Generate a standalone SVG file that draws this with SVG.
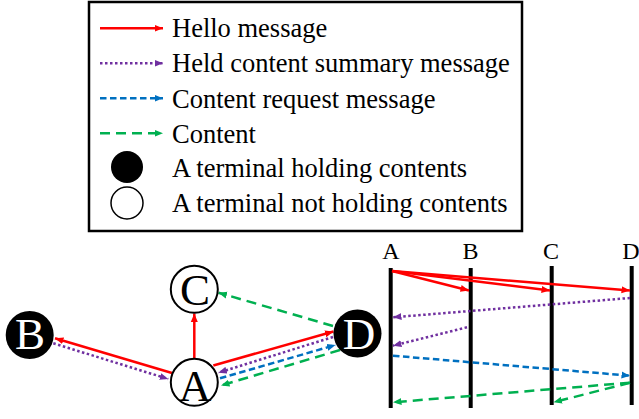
<svg xmlns="http://www.w3.org/2000/svg" width="639" height="419" viewBox="0 0 639 419">
<style>
.t{font-family:"Liberation Serif","Times New Roman",serif;fill:#000}
.lg{font-size:26.5px}
.nl{font-size:45px;text-anchor:middle}
.sl{font-size:24px;text-anchor:middle}
.red{stroke:#FF0000;stroke-width:2.5;fill:none;marker-end:url(#mr)}
.pur{stroke:#7030A0;stroke-width:2.5;fill:none;stroke-dasharray:2.5 2.5;marker-end:url(#mp)}
.blu{stroke:#0070C0;stroke-width:2.5;fill:none;stroke-dasharray:6.5 3.5;marker-end:url(#mb)}
.grn{stroke:#00B050;stroke-width:2.5;fill:none;stroke-dasharray:10 6;marker-end:url(#mg)}
.life{stroke:#000;stroke-width:4}
</style>
<defs>
<marker id="mr" markerUnits="userSpaceOnUse" markerWidth="9" markerHeight="8" refX="8.5" refY="4" orient="auto"><path d="M0,0.5 L8.5,4 L0,7.5 z" fill="#FF0000"/></marker>
<marker id="mp" markerUnits="userSpaceOnUse" markerWidth="9" markerHeight="8" refX="8.5" refY="4" orient="auto"><path d="M0,0.5 L8.5,4 L0,7.5 z" fill="#7030A0"/></marker>
<marker id="mb" markerUnits="userSpaceOnUse" markerWidth="9" markerHeight="8" refX="8.5" refY="4" orient="auto"><path d="M0,0.5 L8.5,4 L0,7.5 z" fill="#0070C0"/></marker>
<marker id="mg" markerUnits="userSpaceOnUse" markerWidth="9" markerHeight="8" refX="8.5" refY="4" orient="auto"><path d="M0,0.5 L8.5,4 L0,7.5 z" fill="#00B050"/></marker>
</defs>
<rect width="639" height="419" fill="#fff"/>

<g id="legend">
<rect x="89" y="2" width="433" height="229" fill="#fff" stroke="#000" stroke-width="2.5"/>
<line class="red" x1="100" y1="28.3" x2="163" y2="28.3"/>
<line class="pur" x1="100" y1="63.3" x2="163" y2="63.3"/>
<line class="blu" x1="100" y1="98.3" x2="163" y2="98.3"/>
<line class="grn" x1="100" y1="133.3" x2="163" y2="133.3"/>
<circle cx="127" cy="167" r="16" fill="#000"/>
<circle cx="127" cy="203" r="16" fill="#fff" stroke="#000" stroke-width="1.5"/>
<text class="t lg" x="172" y="37">Hello message</text>
<text class="t lg" x="172" y="71.5">Held content summary message</text>
<text class="t lg" x="172" y="107.5">Content request message</text>
<text class="t lg" x="172" y="142.5">Content</text>
<text class="t lg" x="172" y="177">A terminal holding contents</text>
<text class="t lg" x="172" y="212">A terminal not holding contents</text>
</g>

<g id="connectors">
<line class="red" x1="172" y1="373" x2="55" y2="338.3"/>
<line class="pur" x1="53.3" y1="343.3" x2="168.3" y2="379"/>
<line class="red" x1="194.3" y1="358" x2="194.3" y2="313.5"/>
<line class="grn" x1="333" y1="326" x2="218.5" y2="292.7"/>
<line class="red" x1="213.3" y1="365.5" x2="333.5" y2="331.5"/>
<line class="pur" x1="333" y1="337" x2="218.3" y2="372.7"/>
<line class="blu" x1="220" y1="378.3" x2="335.5" y2="345"/>
<line class="grn" x1="340" y1="350" x2="221" y2="385.5"/>

<line class="life" x1="390.7" y1="268" x2="390.7" y2="408"/>
<line class="life" x1="470.7" y1="268" x2="470.7" y2="408"/>
<line class="life" x1="551.7" y1="266" x2="551.7" y2="405"/>
<line class="life" x1="631.7" y1="266" x2="631.7" y2="405"/>

<line class="red" x1="392" y1="271" x2="469" y2="290.5"/>
<line class="red" x1="392" y1="271" x2="550" y2="290.5"/>
<line class="red" x1="392" y1="271" x2="630" y2="290.5"/>
<line class="pur" x1="630" y1="298" x2="393" y2="317.3"/>
<line class="pur" x1="467" y1="327.3" x2="393" y2="345.7"/>
<line class="blu" x1="393" y1="355.7" x2="630" y2="375.7"/>
<line class="grn" x1="630" y1="382.7" x2="393" y2="402.3"/>
<line class="grn" x1="630" y1="382.7" x2="553.5" y2="402.3"/>
</g>

<g id="nodeC">
<circle cx="194.3" cy="289.3" r="23.5" fill="#fff" stroke="#000" stroke-width="2"/>
<text class="t nl" x="195" y="305">C</text>
</g>
<g id="nodeA">
<circle cx="194.3" cy="382.3" r="23.5" fill="#fff" stroke="#000" stroke-width="2"/>
<text class="t nl" x="195" y="401">A</text>
</g>
<g id="nodeB">
<circle cx="29.7" cy="335" r="24" fill="#000"/>
<text class="t nl" x="30" y="348.5" style="fill:#fff">B</text>
</g>
<g id="nodeD">
<circle cx="357.5" cy="333.5" r="24" fill="#000"/>
<text class="t nl" x="359" y="348.5" style="fill:#fff">D</text>
</g>

<g id="seqLabels">
<text class="t sl" x="391" y="259">A</text>
<text class="t sl" x="470.5" y="259">B</text>
<text class="t sl" x="551" y="259">C</text>
<text class="t sl" x="631" y="259">D</text>
</g>
</svg>
